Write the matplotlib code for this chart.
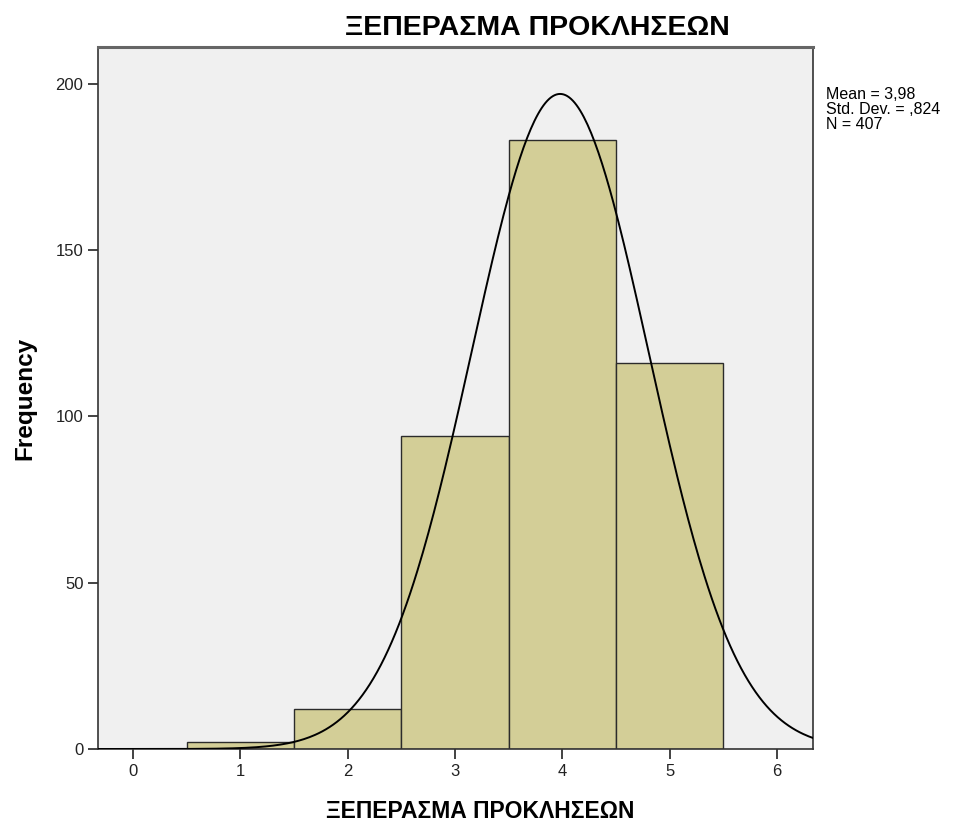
import numpy as np
import matplotlib
matplotlib.use("Agg")
import matplotlib.pyplot as plt

plt.rcParams['font.family'] = ['Liberation Sans', 'DejaVu Sans']

# frequencies per score (Likert 1..5)
scores = [1, 2, 3, 4, 5]
counts = [2, 12, 94, 183, 116]
mean_txt = "3,98"
sd_txt = ",824"

titlos = "ΞΕΠΕΡΑΣΜΑ ΠΡΟΚΛΗΣΕΩΝ"

vals = np.repeat(scores, counts)
n = len(vals)
mu = vals.mean()
sd = vals.std(ddof=1)

fig = plt.figure(figsize=(9.62, 8.25), dpi=100)
ax = fig.add_axes([98/962, 1-749/825, (813-98)/962, (749-47)/825])
ax.set_facecolor('#f0f0f0')

ax.bar(scores, counts, width=1.0, color='#d3ce97', edgecolor='#2b2b2b', linewidth=1.0, zorder=2)

# normal curve scaled to counts (bin width = 1)
xx = np.linspace(-0.4, 6.4, 400)
yy = n * np.exp(-0.5*((xx-mu)/sd)**2) / (sd*np.sqrt(2*np.pi))
ax.plot(xx, yy, color='black', linewidth=1.4, zorder=3)

ax.set_xlim(-0.326, 6.337)
ax.set_ylim(0, 211.1)
ax.set_xticks(range(0, 7))
ax.set_yticks([0, 50, 100, 150, 200])
ax.tick_params(direction='out', length=7, width=1.2, labelsize=12, colors='#222222')

for s in ['left', 'bottom', 'right']:
    ax.spines[s].set_color('#333333')
    ax.spines[s].set_linewidth(1.2)
ax.spines['top'].set_color('#666666')
ax.spines['top'].set_linewidth(2.2)

# titlos kai etiketes
fig.text(537/962, 1-28/825, titlos, fontsize=20.5, fontweight='bold', ha='center', va='center')
fig.text(480/962, 1-811/825, titlos, fontsize=16.5, fontweight='bold', ha='center', va='center')
fig.text(25/962, 1-398/825, "Frequency", fontsize=17.5, fontweight='bold', ha='center', va='center',
         rotation=90)

fig.text(826/962, 1-87/825, "Mean = %s\nStd. Dev. = %s\nN = %d" % (mean_txt, sd_txt, n),
         fontsize=11.5, va='top', ha='left', linespacing=1.02)

fig.savefig("out.png", dpi=100)
